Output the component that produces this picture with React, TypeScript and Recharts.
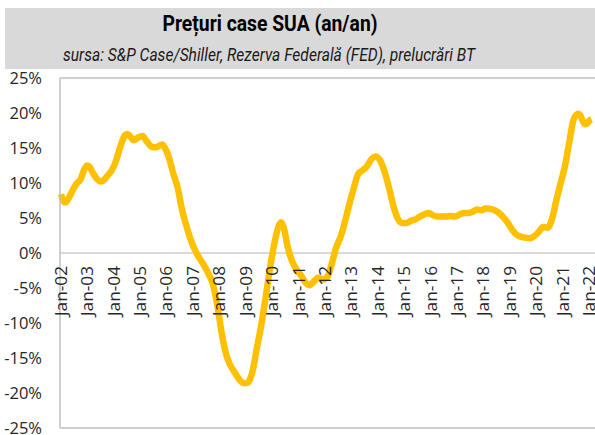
import React from "react";
import { LineChart, Line, XAxis, YAxis, ReferenceLine } from "recharts";

const title = "Prețuri case SUA (an/an)";
const subtitle = "sursa: S&P Case/Shiller, Rezerva Federală (FED), prelucrări BT";

const dates = [
  "2002-01","2002-02","2002-03","2002-04","2002-06","2002-08","2002-10","2002-11","2002-12",
  "2003-01","2003-02","2003-03","2003-05","2003-07","2003-08","2003-10","2003-12",
  "2004-02","2004-04","2004-06","2004-07","2004-08","2004-10","2004-12",
  "2005-02","2005-04","2005-06","2005-08","2005-10","2005-11","2005-12",
  "2006-02","2006-04","2006-06","2006-08","2006-10","2006-12",
  "2007-02","2007-04","2007-06","2007-08","2007-10","2007-12",
  "2008-02","2008-04","2008-06","2008-08","2008-10","2008-12",
  "2009-02","2009-03","2009-04","2009-06","2009-08","2009-10","2009-12",
  "2010-02","2010-04","2010-05","2010-06","2010-08","2010-10","2010-12",
  "2011-02","2011-04","2011-06","2011-08","2011-10","2011-12",
  "2012-02","2012-04","2012-06","2012-08","2012-10","2012-12",
  "2013-02","2013-04","2013-06","2013-08","2013-10","2013-12",
  "2014-02","2014-04","2014-06","2014-08","2014-10","2014-12",
  "2015-02","2015-04","2015-06","2015-08","2015-10","2015-12",
  "2016-02","2016-04","2016-06","2016-08","2016-10","2016-12",
  "2017-02","2017-04","2017-06","2017-08","2017-10","2017-12",
  "2018-02","2018-04","2018-06","2018-08","2018-10","2018-12",
  "2019-02","2019-04","2019-06","2019-08","2019-10","2019-12",
  "2020-02","2020-04","2020-06","2020-08","2020-10","2020-12",
  "2021-02","2021-04","2021-06","2021-08","2021-09","2021-10","2021-11","2021-12",
  "2022-01","2022-02",
];

const values = [
  8.4, 7.4, 7.2, 7.6, 8.8, 9.9, 10.6, 11.5, 12.2,
  12.5, 12.3, 11.7, 10.7, 10.2, 10.3, 11.0, 11.8,
  13.2, 15.3, 16.8, 17.0, 16.8, 16.1, 16.5,
  16.7, 15.9, 15.2, 15.1, 15.4, 15.5, 15.1,
  13.6, 11.3, 9.3, 6.1, 3.8, 1.8,
  0.3, -0.8, -1.8, -3.0, -4.5, -7.5,
  -11.5, -14.5, -16.1, -17.1, -18.1, -18.6,
  -18.5, -17.9, -16.9, -13.5, -10.2, -6.2, -2.0,
  1.5, 4.0, 4.4, 3.8, 0.8, -1.2, -2.4,
  -3.2, -4.2, -4.6, -4.0, -3.5, -3.8,
  -3.4, -1.5, 0.8, 2.3, 4.5, 7.0,
  9.3, 11.3, 11.8, 12.4, 13.4, 13.8,
  13.2, 11.6, 9.3, 6.7, 4.9, 4.3,
  4.3, 4.6, 4.8, 5.2, 5.5, 5.7,
  5.4, 5.2, 5.2, 5.2, 5.3, 5.2,
  5.5, 5.7, 5.7, 5.9, 6.2, 6.1,
  6.4, 6.3, 6.1, 5.7, 5.1, 4.3,
  3.3, 2.6, 2.3, 2.2, 2.1, 2.4,
  3.0, 3.7, 3.6, 4.8, 7.5, 10.0,
  12.5, 16.0, 19.2, 19.9, 19.6, 18.9, 18.4, 18.5,
  18.9, 19.1,
];

const yearLabels = [
  "Jan-02","Jan-03","Jan-04","Jan-05","Jan-06","Jan-07","Jan-08","Jan-09","Jan-10","Jan-11",
  "Jan-12","Jan-13","Jan-14","Jan-15","Jan-16","Jan-17","Jan-18","Jan-19","Jan-20","Jan-21","Jan-22",
];
const yTicks = [-25, -20, -15, -10, -5, 0, 5, 10, 15, 20, 25];

const monthIndex = (d: string) => {
  const [y, m] = d.split("-").map(Number);
  return (y - 2002) * 12 + (m - 1);
};

const data = dates.map((d, i) => ({ t: monthIndex(d), v: values[i] }));
const xTicks = yearLabels.map((_, i) => i * 12);

const PLOT_TOP = 78;
const PLOT_H = 350;
const ZERO_Y = PLOT_TOP + PLOT_H / 2;
const FONT = "'Open Sans', 'DejaVu Sans', sans-serif";

const XTick = (props: any) => {
  const { x, payload } = props;
  const label = yearLabels[Math.round(payload.value / 12)];
  const ty = ZERO_Y + 13;
  return (
    <text
      x={x}
      y={ty}
      transform={`rotate(-90, ${x}, ${ty})`}
      textAnchor="end"
      dy="0.36em"
      fill="#262626"
      fontSize={16}
      fontFamily={FONT}
      textLength={50}
      lengthAdjust="spacingAndGlyphs"
    >
      {label}
    </text>
  );
};

export default function App() {
  return (
    <div
      style={{
        position: "absolute",
        left: 0,
        top: 0,
        width: 595,
        height: 435,
        overflow: "hidden",
        background: "#fff",
      }}
    >
      <svg width={595} height={80} style={{ position: "absolute", left: 0, top: 0 }}>
        <rect x={5} y={8} width={590} height={61} fill="#d9d9d9" />
        <text
          x={270}
          y={31}
          textAnchor="middle"
          fontFamily="Roboto, 'Open Sans', sans-serif"
          fontWeight="bold"
          fontSize={22.5}
          fill="#000"
          textLength={215}
          lengthAdjust="spacingAndGlyphs"
        >
          {title}
        </text>
        <text
          x={269}
          y={61}
          textAnchor="middle"
          fontFamily="Roboto, 'Open Sans', sans-serif"
          fontStyle="italic"
          fontSize={17.5}
          fill="#1a1a1a"
          textLength={412}
          lengthAdjust="spacingAndGlyphs"
        >
          {subtitle}
        </text>
      </svg>
      <div style={{ position: "absolute", left: 0, top: 0 }}>
        <LineChart
          width={600}
          height={435}
          data={data}
          margin={{ top: PLOT_TOP, right: 3, bottom: 0, left: 0 }}
        >
          <ReferenceLine y={0} stroke="#d9d9d9" strokeWidth={2} ifOverflow="visible" />
          <ReferenceLine y={25} stroke="#bfbfbf" strokeWidth={1.5} ifOverflow="visible" />
          <XAxis
            dataKey="t"
            type="number"
            domain={[-0.5, 243.5]}
            ticks={xTicks}
            interval={0}
            height={435 - PLOT_TOP - PLOT_H}
            tickLine={false}
            axisLine={{ stroke: "#bfbfbf", strokeWidth: 1.5 }}
            tick={<XTick />}
          />
          <YAxis
            type="number"
            domain={[-25, 25]}
            ticks={yTicks}
            interval={0}
            width={60}
            tickLine={false}
            tickSize={0}
            tickMargin={18}
            axisLine={{ stroke: "#bfbfbf", strokeWidth: 1.5 }}
            tickFormatter={(v: number) => `${v}%`}
            tick={{ fill: "#262626", fontSize: 16.5, fontFamily: FONT }}
          />
          <Line
            dataKey="v"
            type="monotone"
            stroke="#FFC000"
            strokeWidth={6.5}
            dot={false}
            isAnimationActive={false}
          />
        </LineChart>
      </div>
    </div>
  );
}
